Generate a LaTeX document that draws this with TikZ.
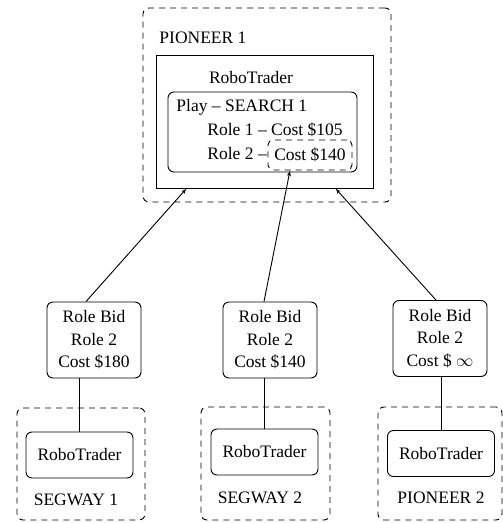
\documentclass[tikz,border=0pt]{standalone}
\usepackage{fontspec}
\setmainfont{Liberation Serif}
\usepackage{amssymb,amsmath}
\usepackage{tikz}
\usetikzlibrary{shapes,arrows,arrows.meta}
\usetikzlibrary{positioning}
\tikzstyle{robot} = [rectangle, draw, dash pattern=on 6pt off 5pt, rounded corners=6pt, inner sep=0pt]
\tikzstyle{trader} = [rectangle, draw, rounded corners=6pt, 
    minimum width=107pt, minimum height=46pt]
\tikzstyle{bid} = [rectangle, draw, rounded corners=6pt, align=center, 
    minimum width=94pt, minimum height=76pt, inner sep=2pt]
\tikzstyle{tag} = [anchor=west, inner sep=0pt]
\tikzstyle{line} = [draw, -latex']

\begin{document}
\begin{tikzpicture}[x=1pt,y=-1pt,line width=0.9pt,font=\rmfamily\fontsize{17.5}{22.5}\selectfont]
    \useasboundingbox (0,0) rectangle (503,523);
    % Place nodes
    \node [robot, minimum width=248pt, minimum height=194pt] (pioneer1) at (267,105) {};
    \node [tag] (pname1) at (159,38) {PIONEER 1};
    \node [rectangle, draw, minimum width=217pt, minimum height=133pt] (robo1) at (264.5,121.5) {};
    \node (rname1) at (251,78) {RoboTrader};
    \node [rectangle, draw, rounded corners=6pt, minimum width=189pt, minimum height=80pt] (play) at (262.5,132) {};
    \node [tag] (search) at (176,107) {Play -- SEARCH 1};
    \node [tag] (role1) at (207,130) {Role 1 -- Cost \$105};
    \node [tag] (role2) at (207,154) {Role 2 --};
    \node [robot, rounded corners=5pt, minimum width=84pt, minimum height=30pt] (cost) at (310,155) {Cost \$140};

    \node [bid] (bid1) at (94,340) {Role Bid\\Role 2\\Cost \$180};
    \node [bid] (bid2) at (270,340) {Role Bid\\Role 2\\Cost \$140};
    \node [bid] (bid3) at (440,338.5) {Role Bid\\Role 2\\Cost \$ $\infty$};

    \node [robot, minimum width=128pt, minimum height=112pt] (segway1) at (81,464) {};
    \node [robot, minimum width=129pt, minimum height=113pt] (segway2) at (265.5,463.5) {};
    \node [robot, minimum width=124pt, minimum height=113pt] (pioneer2) at (440,463.5) {};
    \node [trader] (r1) at (79.5,455) {RoboTrader};
    \node [trader] (r2) at (264.5,452) {RoboTrader};
    \node [trader] (r3) at (441,453.5) {RoboTrader};
    \node (sname1) at (76,500) {SEGWAY 1};
    \node (sname2) at (260,498) {SEGWAY 2};
    \node (pname2) at (441,498) {PIONEER 2};

    % Draw edges
    \path [draw] (r1.north) -- (r1.north |- bid1.south);
    \path [draw] (r2.north) -- (r2.north |- bid2.south);
    \path [draw] (r3.north) -- (r3.north |- bid3.south);
    \path [line] ([xshift=-8pt]bid1.north) -- ([xshift=31pt]robo1.south west);
    \path [line] ([xshift=-6pt]bid2.north) -- ([xshift=-20pt]cost.south);
    \path [line] ([xshift=-4pt]bid3.north) -- ([xshift=-38pt]robo1.south east);
\end{tikzpicture}
\end{document}
